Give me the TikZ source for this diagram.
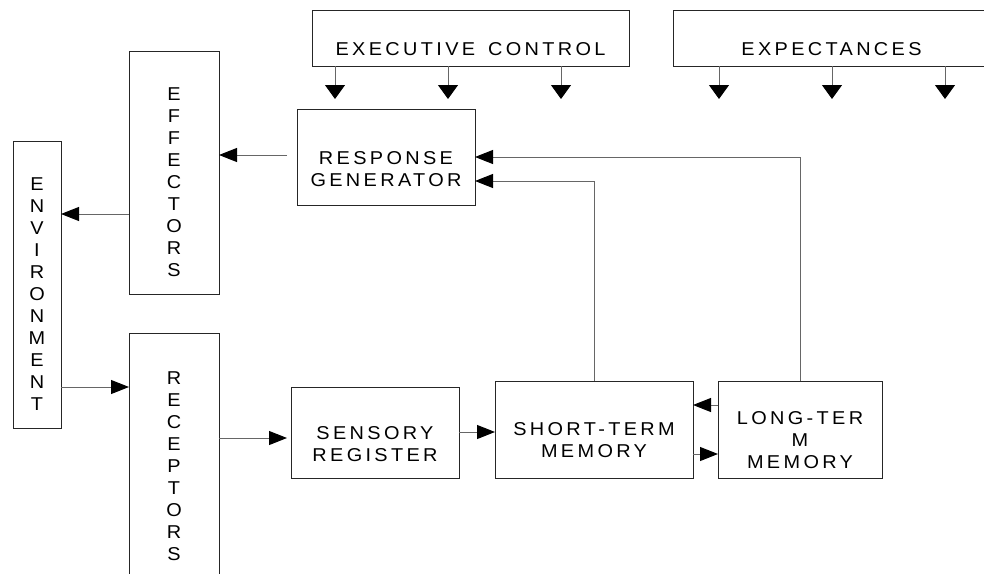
\documentclass[tikz,border=0pt]{standalone}
\usepackage{fontspec}
\setmainfont{Liberation Sans}[FakeStretch=1.07,LetterSpace=18]
\usetikzlibrary{arrows.meta,calc}

\begin{document}
\begin{tikzpicture}[x=1pt,y=-1pt,
  box/.style={draw=black!85,line width=1pt,inner sep=0pt,outer sep=0pt},
  lbl/.style={font=\fontsize{18.6}{22}\selectfont,align=center,inner sep=0pt,text=black},
  conn/.style={draw=black!60,line width=1pt},
  harrow/.style={conn,-{Triangle[length=18pt,width=14pt,color=black]}},
  varrow/.style={conn,-{Triangle[length=14pt,width=20pt,color=black]}}]

\useasboundingbox (0,0) rectangle (984,573);
\clip (0,0) rectangle (984,573);

% boxes
\node[box,minimum width=317pt,minimum height=56pt] (exec) at (470.5,38) {};
\node[box,minimum width=317pt,minimum height=56pt] (expect) at (831.5,38) {};
\node[box,minimum width=90pt,minimum height=243pt] (eff) at (174,172.5) {};
\node[box,minimum width=48pt,minimum height=287pt] (env) at (37,284.5) {};
\node[box,minimum width=90pt,minimum height=287pt] (rec) at (174,476.5) {};
\node[box,minimum width=178pt,minimum height=96pt] (rg) at (386,157) {};
\node[box,minimum width=168pt,minimum height=91pt] (sr) at (375,432.5) {};
\node[box,minimum width=198pt,minimum height=97pt] (stm) at (594,429.5) {};
\node[box,minimum width=164pt,minimum height=97pt] (ltm) at (800,429.5) {};

% labels
\node[lbl,anchor=base] (execT) at (470.5,55) {EXECUTIVE\hspace{4pt} CONTROL};
\node[lbl,anchor=base] (expectT) at (831.5,55) {EXPECTANCES};
\node[lbl] (rgT) at (386,169) {RESPONSE\\GENERATOR};
\node[lbl] (srT) at (375,444) {SENSORY\\REGISTER};
\node[lbl] (stmT) at (594,440.5) {SHORT-TERM\\MEMORY};
\node[lbl] (ltmT) at (800,440.5) {LONG-TER\\M\\MEMORY};
\node[lbl] (effT) at (174,182.5) {E\\F\\F\\E\\C\\T\\O\\R\\S};
\node[lbl] (envT) at (37,294.5) {E\\N\\V\\I\\R\\O\\N\\M\\E\\N\\T};
\node[lbl] (recT) at (174,466.5) {R\\E\\C\\E\\P\\T\\O\\R\\S};

% downward influences
\coordinate (ex1) at (335,99);
\coordinate (ex2) at (448,99);
\coordinate (ex3) at (561,99);
\coordinate (xp1) at (719,99);
\coordinate (xp2) at (832,99);
\coordinate (xp3) at (945,99);
\foreach \c in {ex1,ex2,ex3} \draw[varrow] (exec.south -| \c) -- (\c);
\foreach \c in {xp1,xp2,xp3} \draw[varrow] (expect.south -| \c) -- (\c);

% information flow
\coordinate (rgo) at (287,155);
\draw[harrow] (rgo) -- (rgo -| eff.east);
\draw[harrow] (eff.west |- 0,214) -- (env.east |- 0,214);
\draw[harrow] (env.east |- 0,387) -- (rec.west |- 0,387);
\draw[harrow,shorten >=4pt] (rec.east |- 0,438) -- (sr.west |- 0,438);
\draw[harrow] (sr.east |- 0,432) -- (stm.west |- 0,432);
\draw[harrow] (ltm.west |- 0,405) -- (stm.east |- 0,405);
\draw[harrow] (stm.east |- 0,454) -- (ltm.west |- 0,454);
\draw[harrow] (stm.north) |- (rg.east |- 0,181);
\draw[harrow] (ltm.north) |- (rg.east |- 0,157);
\end{tikzpicture}
\end{document}
